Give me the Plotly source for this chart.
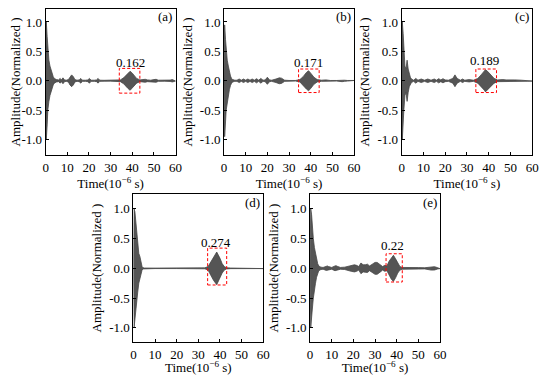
import plotly.graph_objects as go

# ---- data: envelope of each normalized waveform (time in 1e-6 s, amplitude) ----
t_a = [0, 0.3, 0.7, 1.0, 1.5, 2.0, 2.5, 3.0, 3.5, 4.0, 5.0, 6.0, 6.7, 7.3, 8.0, 8.7, 9.5, 10.5, 11.2, 12.0, 12.8, 13.5,
       14.5, 15.5, 16.2, 17, 18.5, 19.5, 20.2, 21, 22.5, 23.5, 24.2, 25, 27, 30, 33, 34.5, 36, 37, 38, 39, 40, 41, 42,
       43.5, 45, 46, 47, 48.5, 50, 51, 52, 55, 57.5, 58.5, 60]
env_a = [0, 1.0, 0.75, 0.5, 0.35, 0.25, 0.18, 0.12, 0.07, 0.04, 0.02, 0.015, 0.04, 0.015, 0.05, 0.015, 0.01, 0.02, 0.07,
         0.1, 0.07, 0.02, 0.01, 0.015, 0.04, 0.01, 0.01, 0.015, 0.04, 0.01, 0.01, 0.015, 0.04, 0.01, 0.008, 0.006, 0.008,
         0.015, 0.05, 0.09, 0.13, 0.162, 0.13, 0.08, 0.04, 0.015, 0.02, 0.025, 0.015, 0.01, 0.02, 0.025, 0.01, 0.008,
         0.012, 0.02, 0.005]

t_b = [0, 0.3, 0.7, 1.0, 1.5, 2.0, 2.5, 3.0, 3.5, 4.0, 5.0, 6.0, 7.0, 8.0, 9.0, 10.0, 11.0, 12.0, 13.0, 14.0, 15.0, 16.0,
       17.0, 18.0, 19.0, 20.0, 21.0, 22.0, 24.0, 25.5, 26.5, 28.0, 30, 33, 35, 36.5, 38, 39, 40, 41.5, 43, 45, 47, 49,
       52, 54.5, 55.5, 57, 60]
env_b = [0, 0.95, 0.7, 0.5, 0.35, 0.25, 0.15, 0.08, 0.04, 0.02, 0.01, 0.01, 0.03, 0.01, 0.03, 0.01, 0.03, 0.01, 0.03,
         0.01, 0.035, 0.01, 0.04, 0.01, 0.015, 0.06, 0.015, 0.01, 0.03, 0.05, 0.045, 0.01, 0.005, 0.005, 0.02, 0.07,
         0.14, 0.171, 0.13, 0.06, 0.02, 0.01, 0.015, 0.005, 0.005, 0.015, 0.01, 0.005, 0.005]

t_c = [0, 0.3, 0.7, 1.0, 1.5, 2.0, 2.5, 3.0, 3.5, 4.0, 4.5, 5.5, 6.5, 7.5, 9.0, 10.5, 12.0, 13.5, 15.0, 16.0, 17.0, 18.0,
       19.0, 20.0, 21.5, 23.5, 24.5, 25.5, 27, 28, 29, 31, 33, 35, 36.5, 38, 38.5, 39.5, 41, 42.5, 44, 45.5, 46.5, 48,
       50, 52, 55, 58, 60]
env_c = [0, 1.0, 0.8, 0.5, 0.25, 0.2, 0.35, 0.2, 0.1, 0.06, 0.03, 0.01, 0.04, 0.01, 0.03, 0.01, 0.03, 0.01, 0.03, 0.01,
         0.035, 0.015, 0.035, 0.015, 0.01, 0.04, 0.1, 0.04, 0.01, 0.03, 0.01, 0.02, 0.01, 0.04, 0.1, 0.16, 0.189, 0.16,
         0.1, 0.04, 0.015, 0.025, 0.02, 0.015, 0.02, 0.015, 0.01, 0.008, 0.005]

t_d = [0, 0.3, 0.7, 1.0, 1.5, 2.0, 2.5, 3.0, 3.5, 4.0, 4.5, 5.0, 10, 20, 30, 33, 34.5, 36, 37, 38.5, 40, 41, 42, 43, 45,
       50, 60]
env_d = [0, 1.0, 0.95, 0.85, 0.6, 0.4, 0.25, 0.2, 0.1, 0.03, 0.01, 0.005, 0.004, 0.004, 0.005, 0.008, 0.03, 0.12, 0.2,
         0.274, 0.17, 0.08, 0.03, 0.01, 0.005, 0.004, 0.004]

t_e = [0, 0.3, 0.7, 1.0, 1.5, 2.0, 2.5, 3.0, 3.5, 4.0, 5.0, 6.0, 7.5, 8.0, 8.5, 10, 11.5, 12, 12.5, 14, 16, 17.5, 19,
       20.5, 21.5, 22.5, 23.5, 24.5, 25.5, 26.5, 27.5, 28.5, 30, 31, 32.5, 33.5, 34.5, 35.5, 36.5, 37.5, 38.5, 39.5,
       40.5, 41.5, 42.5, 45, 50, 53, 54.5, 56, 57.5, 59, 60]
env_e = [0, 1.0, 0.9, 0.7, 0.5, 0.35, 0.25, 0.15, 0.08, 0.04, 0.02, 0.015, 0.035, 0.04, 0.03, 0.015, 0.04, 0.045, 0.035,
         0.015, 0.02, 0.03, 0.05, 0.06, 0.05, 0.03, 0.09, 0.06, 0.06, 0.07, 0.04, 0.06, 0.1, 0.1, 0.06, 0.03, 0.05,
         0.04, 0.12, 0.18, 0.22, 0.16, 0.08, 0.03, 0.015, 0.01, 0.012, 0.01, 0.02, 0.03, 0.028, 0.01, 0.005]

panel_labels = ["(a)", "(b)", "(c)", "(d)", "(e)"]
peak_labels = ["0.162", "0.171", "0.189", "0.274", "0.22"]
peak_pos = [(39, 0.31), (39, 0.31), (38.3, 0.35), (38.1, 0.44), (38.1, 0.38)]
boxes = [(34.0, 43.5, -0.21, 0.21), (34.4, 43.9, -0.2, 0.2), (34.1, 43.6, -0.2, 0.2),
         (34.3, 43.1, -0.28, 0.34), (35.1, 42.6, -0.23, 0.245)]
x_ticks = [0, 10, 20, 30, 40, 50, 60]
y_ticks = [-1.0, -0.5, 0.0, 0.5, 1.0]
y_ticktext = ["-1.0", "-0.5", "0.0", "0.5", "1.0"]

series = [(t_a, env_a), (t_b, env_b), (t_c, env_c), (t_d, env_d), (t_e, env_e)]

# page has an 8px body margin -> figure is offset by OFF px
OFF = 8
W, H = 550 - OFF, 375 - OFF
# panel frames in page pixels (left, right, top, bottom) and y ranges
px_boxes = [(43.3, 175.7, 8, 154.3), (225, 357.5, 8, 154.3), (406, 539, 8, 154.3),
            (132.7, 265, 193.5, 342), (312.7, 445, 193.5, 342)]
y_ranges = [[-1.26, 1.22]] * 3 + [[-1.24, 1.25]] * 2

FONT = "Liberation Serif"
fig = go.Figure()
layout = {}
for i, ((t, env), (x0, x1, y0, y1)) in enumerate(zip(series, px_boxes)):
    n = i + 1
    xa = "x" if n == 1 else f"x{n}"
    ya = "y" if n == 1 else f"y{n}"
    xs = list(t) + list(reversed(t))
    ys = list(env) + [-v for v in reversed(env)]
    fig.add_trace(go.Scatter(x=xs, y=ys, fill="toself", mode="lines",
                             line=dict(color="rgb(70,70,70)", width=0.8),
                             fillcolor="rgb(85,85,85)", xaxis=xa, yaxis=ya,
                             showlegend=False, hoverinfo="skip"))
    axis_common = dict(showline=True, mirror=True, linecolor="black", linewidth=1,
                       ticks="inside", ticklen=3, tickcolor="black", showgrid=False,
                       zeroline=False, tickfont=dict(family=FONT, size=13, color="black"))
    dx0 = max(0.0, (x0 - OFF) / W)
    dx1 = min(1.0, (x1 - OFF) / W)
    dy0 = max(0.0, 1 - (y1 - OFF) / H)
    dy1 = min(1.0, 1 - (y0 - OFF) / H)
    layout["xaxis" if n == 1 else f"xaxis{n}"] = dict(
        domain=[dx0, dx1], range=[0, 60], tickvals=x_ticks, anchor=ya,
        title=dict(text="Time(10<sup>−6</sup> s)", font=dict(family=FONT, size=13, color="black"),
                   standoff=1),
        **axis_common)
    layout["yaxis" if n == 1 else f"yaxis{n}"] = dict(
        domain=[dy0, dy1], range=y_ranges[i], tickvals=y_ticks,
        ticktext=y_ticktext, anchor=xa,
        title=dict(text="Amplitude(Normalized )", font=dict(family=FONT, size=13, color="black"),
                   standoff=4),
        **axis_common)
    bx0, bx1, by0, by1 = boxes[i]
    fig.add_shape(type="rect", xref=xa, yref=ya, x0=bx0, x1=bx1, y0=by0, y1=by1,
                  line=dict(color="red", width=1, dash="3px,2px"))
    fig.add_annotation(x=peak_pos[i][0], y=peak_pos[i][1], xref=xa, yref=ya,
                       text=peak_labels[i], showarrow=False,
                       font=dict(family=FONT, size=13, color="black"))
    fig.add_annotation(x=55.2, y=1.1, xref=xa, yref=ya, text=panel_labels[i], showarrow=False,
                       font=dict(family=FONT, size=13, color="black"))

fig.update_layout(width=W, height=H, margin=dict(l=0, r=0, t=0, b=0),
                  paper_bgcolor="white", plot_bgcolor="white", **layout)
fig.write_html("out.html")
